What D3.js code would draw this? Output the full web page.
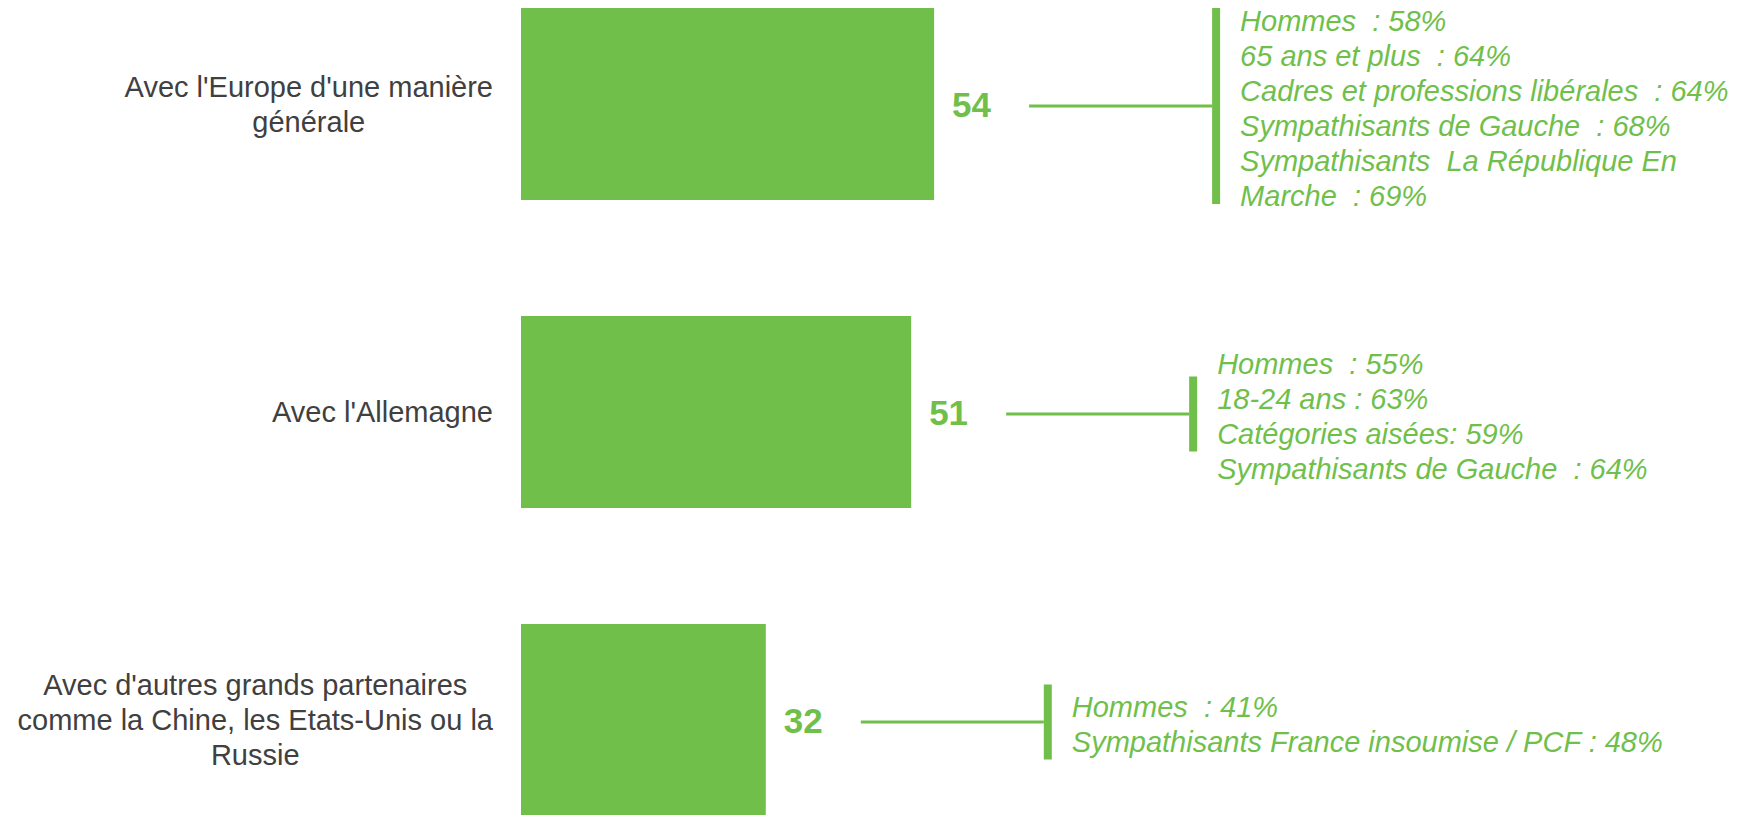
<!DOCTYPE html>
<html>
<head>
<meta charset="utf-8">
<script src="https://cdn.jsdelivr.net/npm/d3@7"></script>
<style>
  html, body { margin: 0; padding: 0; background: #fff; }
  svg { display: block; font-family: Arial, "Liberation Sans", sans-serif; }
</style>
</head>
<body>
<div id="chart"></div>
<script>
// data
var categories = [
  ["Avec l'Europe d'une manière", "générale"],
  ["Avec l'Allemagne"],
  ["Avec d'autres grands partenaires", "comme la Chine, les Etats-Unis ou la", "Russie"]
];
var values = [54, 51, 32];
var details = [
  ["Hommes  : 58%", "65 ans et plus  : 64%", "Cadres et professions libérales  : 64%",
   "Sympathisants de Gauche  : 68%", "Sympathisants  La République En", "Marche  : 69%"],
  ["Hommes  : 55%", "18-24 ans : 63%", "Catégories aisées: 59%", "Sympathisants de Gauche  : 64%"],
  ["Hommes  : 41%", "Sympathisants France insoumise / PCF : 48%"]
];

var width = 1752, height = 815;
var green = "#70bf4b", grey = "#404040";
var lineH = 35;
var bracketH = [196, 75, 75];

var svg = d3.select("#chart").append("svg")
    .attr("width", width)
    .attr("height", height);

var x = d3.scaleLinear().domain([0, 100]).range([521, 1286]);
var y = d3.scaleBand()
    .domain(d3.range(values.length))
    .range([-50, 874])
    .paddingInner(0.3766)
    .paddingOuter(0.1883);

var row = svg.selectAll(".row")
    .data(values)
    .enter().append("g")
    .attr("class", "row");

row.append("rect")
    .attr("x", x(0))
    .attr("y", function(d, i) { return y(i); })
    .attr("width", function(d) { return x(d) - x(0); })
    .attr("height", y.bandwidth())
    .attr("fill", green);

// value labels
row.append("text")
    .attr("x", function(d) { return x(d) + 18; })
    .attr("y", function(d, i) { return y(i) + y.bandwidth() / 2 + 1; })
    .attr("dy", "0.35em")
    .attr("fill", green)
    .style("font-size", "35px")
    .style("font-weight", "bold")
    .text(function(d) { return d; });

// category labels: lines centered, block right edge at 493
row.each(function(d, i) {
    var g = d3.select(this);
    var lines = categories[i];
    var cy = y(i) + y.bandwidth() / 2;
    var t = g.append("text")
        .attr("fill", grey)
        .attr("text-anchor", "middle")
        .style("font-size", "29px");
    var spans = t.selectAll("tspan").data(lines).enter().append("tspan")
        .attr("y", function(l, k) { return cy + (k - (lines.length - 1) / 2) * lineH; })
        .attr("dy", "0.35em")
        .text(function(l) { return l; });
    var maxW = d3.max(spans.nodes(), function(n) { return n.getComputedTextLength(); });
    spans.attr("x", 493 - maxW / 2);
});

// connectors, brackets and detail text
row.each(function(d, i) {
    var g = d3.select(this);
    var cy = y(i) + y.bandwidth() / 2 + 2;
    var x0 = x(d) + 95;
    var x1 = x0 + 183;
    g.append("line")
        .attr("x1", x0).attr("x2", x1)
        .attr("y1", cy).attr("y2", cy)
        .attr("stroke", green)
        .attr("stroke-width", 3);
    g.append("rect")
        .attr("x", x1)
        .attr("y", cy - bracketH[i] / 2)
        .attr("width", 8)
        .attr("height", bracketH[i])
        .attr("fill", green);
    var lines = details[i];
    var t = g.append("text")
        .attr("fill", green)
        .style("font-size", "29px")
        .style("font-style", "italic")
        .attr("xml:space", "preserve");
    t.selectAll("tspan").data(lines).enter().append("tspan")
        .attr("x", x1 + 28)
        .attr("y", function(l, k) { return cy + 2.5 + (k - (lines.length - 1) / 2) * lineH; })
        .attr("dy", "0.35em")
        .style("white-space", "pre")
        .text(function(l) { return l; });
});
</script>
</body>
</html>
